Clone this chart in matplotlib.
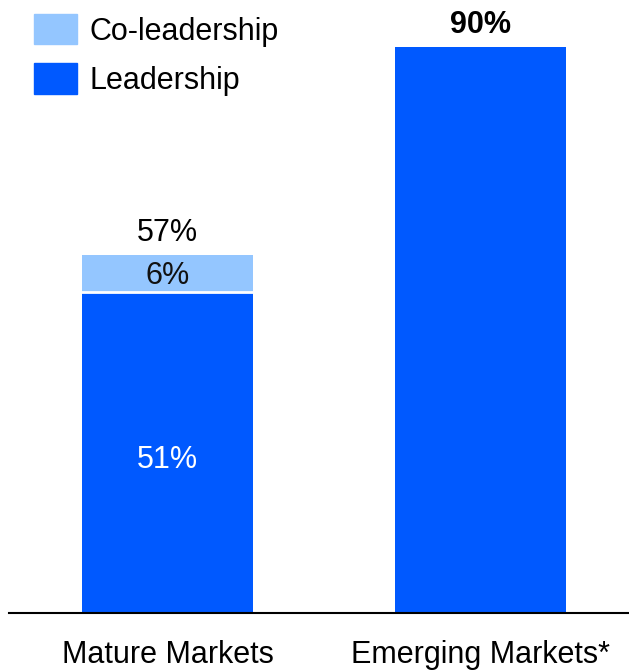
import numpy as np
import matplotlib.pyplot as plt
from matplotlib.patches import Patch

plt.rcParams['font.family'] = ['Liberation Sans', 'DejaVu Sans']

# Data
categories = ["Mature Markets", "Emerging Markets*"]
leadership = [51, 90]
co_leadership = [6, 0]
totals = [57, 90]

c_lead = "#0059ff"
c_co = "#94c6ff"
fs = 22

fig = plt.figure(figsize=(6.29, 6.72), dpi=100)
ax = fig.add_axes([9 / 629, 1 - 613 / 672, 620 / 629, 613 / 672])

x = np.arange(len(categories))
w = 0.546
ax.bar(x, leadership, width=w, color=c_lead, linewidth=0)
ax.bar(x, co_leadership, width=w, bottom=leadership, color=c_co, linewidth=0)
# white gap between segments
for i in range(len(categories)):
    if co_leadership[i] > 0:
        ax.plot([x[i] - w / 2, x[i] + w / 2], [leadership[i], leadership[i]],
                color="white", lw=2)

ax.set_xlim(-0.506, 1.474)
ax.set_ylim(0, 97.5)

# labels
ax.text(x[0], leadership[0] / 2 - 1.2, f"{leadership[0]}%", ha="center", va="center",
        color="white", fontsize=fs)
ax.text(x[0], leadership[0] + co_leadership[0] / 2 - 0.4, f"{co_leadership[0]}%",
        ha="center", va="center", color="#111111", fontsize=fs)
ax.text(x[0], totals[0] + 1.0, f"{totals[0]}%", ha="center", va="bottom",
        color="black", fontsize=fs)
ax.text(x[1], totals[1] + 1.1, f"{totals[1]}%", ha="center", va="bottom",
        color="black", fontsize=fs, fontweight="bold")

for s in ["top", "right", "left"]:
    ax.spines[s].set_visible(False)
ax.spines["bottom"].set_linewidth(1.5)
ax.set_yticks([])
ax.set_xticks(x)
ax.set_xticklabels(categories, fontsize=fs)
ax.tick_params(axis="x", length=0, pad=19.5)

handles = [Patch(color=c_co, label="Co-leadership"),
           Patch(color=c_lead, label="Leadership")]
ax.legend(handles=handles, loc="upper left", bbox_to_anchor=(0.0403, 0.977),
          frameon=False, fontsize=fs, handlelength=1.4, handleheight=1.15,
          labelspacing=0.55, handletextpad=0.42, borderaxespad=0, borderpad=0)

fig.savefig("out.png", dpi=100)
